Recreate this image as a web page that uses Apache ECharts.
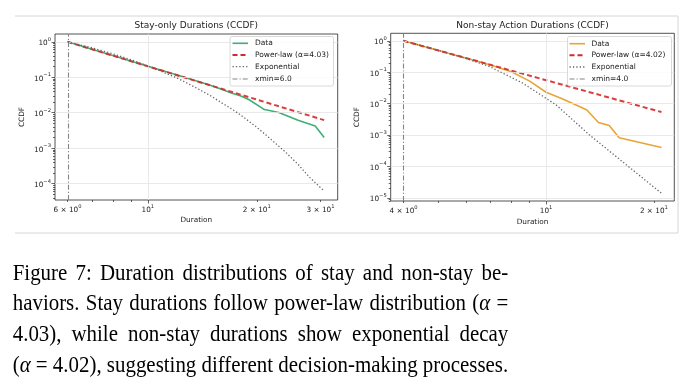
<!DOCTYPE html>
<html><head><meta charset="utf-8">
<script src="https://cdn.jsdelivr.net/npm/echarts@6/dist/echarts.min.js"></script>
<style>html,body{margin:0;padding:0;background:#fff}#c{width:695px;height:387px}</style>
</head><body><div id="c"></div>
<script>
// ---------------- data ----------------
// Left panel: stay-only durations
const stayDur   = [6, 7, 8, 9, 10, 11, 12, 13, 14, 15, 16, 17, 18, 19, 21, 23, 26, 29, 30.7];
const stayCCDF  = [1.0, 0.62, 0.41, 0.284, 0.205, 0.153, 0.117, 0.091, 0.072, 0.058, 0.046, 0.036, 0.030, 0.0236, 0.0123, 0.0101, 0.0061, 0.0042, 0.0020];
const stayPLDur = [6, 30.7];
const stayPL    = [1.0, 0.0062];
const stayExpDur = [6, 7, 8, 9, 10, 11, 12, 13, 14, 15, 16, 17, 18, 19, 20, 22, 24, 26, 28, 30.7];
const stayExp    = [1.0, 0.68, 0.46, 0.31, 0.21, 0.14, 0.097, 0.064, 0.043, 0.029, 0.019, 0.013, 0.0088, 0.0058, 0.0039, 0.0017, 0.00078, 0.00035, 0.00015, 0.000062];
const stayXmin = 6.0;
const stayAlpha = '4.03';

// Right panel: non-stay action durations
const nsDur   = [4, 5, 6, 7, 8, 9, 10, 11, 12, 13, 14, 15, 16, 21];
const nsCCDF  = [1.0, 0.495, 0.279, 0.169, 0.104, 0.052, 0.023, 0.0148, 0.0095, 0.0063, 0.0025, 0.0020, 0.00082, 0.00040];
const nsPLDur = [4, 21];
const nsPL    = [1.0, 0.0054];
const nsExpDur = [4, 5, 6, 6.97, 8.62, 10.67, 13.2, 16.3, 21];
const nsExp    = [1.0, 0.5, 0.27, 0.15, 0.0444, 0.0091, 0.00102, 0.000145, 0.000014];
const nsXmin = 4.0;
const nsAlpha = '4.02';

// tick values
const stayXMajor = [10];
const stayXMinor = [6, 7, 8, 9, 20, 30];
const stayXLabels = [6, 10, 20, 30];
const nsXMajor = [10];
const nsXMinor = [4, 5, 6, 7, 8, 9, 20];
const nsXLabels = [4, 10, 20];
const stayYMajor = [1, 0.1, 0.01, 0.001, 0.0001];
const nsYMajor = [1, 0.1, 0.01, 0.001, 0.0001, 0.00001];

const titles = ['Stay-only Durations (CCDF)', 'Non-stay Action Durations (CCDF)'];
const captionLines = [
  'Figure 7: Duration distributions of stay and non-stay be-',
  'haviors. Stay durations follow power-law distribution (α =',
  '4.03), while non-stay durations show exponential decay',
  '(α = 4.02), suggesting different decision-making processes.'
];

// ---------------- helpers ----------------
const L = v => Math.log10(v);
const pts = (xs, ys) => xs.map((x, i) => [L(x), L(ys[i])]);
const FONT = 'DejaVu Sans';
const MINUS = '\u2212';
function supLabel(v) {
  const e = Math.floor(v + 1e-9);
  const m = Math.round(Math.pow(10, v - e));
  const es = e < 0 ? MINUS + (-e) : String(e);
  return (m === 1 ? '{b|10}' : '{b|' + m + ' \u00d7 10}') + '{s|' + es + '}';
}
function minorY(lo, hi) {
  const out = [];
  for (let e = Math.floor(lo); e <= Math.ceil(hi); e++)
    for (let k = 2; k <= 9; k++) { const v = e + L(k); if (v > lo && v < hi) out.push(v); }
  return out;
}
const richLbl = {
  b: { fontFamily: FONT, fontSize: 7.3, color: '#222', lineHeight: 10, verticalAlign: 'bottom' },
  s: { fontFamily: FONT, fontSize: 5.2, color: '#222', lineHeight: 10, verticalAlign: 'top' }
};

const panels = [
  { left: 55, right: 357.3, top: 34, bottom: 187, xr: [0.7435, 1.5245], yr: [-4.46, 0.22],
    d: [stayDur, stayCCDF], pl: [stayPLDur, stayPL], ex: [stayExpDur, stayExp], xmin: stayXmin,
    xMaj: stayXMajor, xMin: stayXMinor, xLab: stayXLabels, yMaj: stayYMajor, color: '#3fae78', alpha: stayAlpha,
    nameGapX: 17, nameGapY: 29 },
  { left: 390.7, right: 20.7, top: 33.3, bottom: 186, xr: [0.566, 1.358], yr: [-5.10, 0.24],
    d: [nsDur, nsCCDF], pl: [nsPLDur, nsPL], ex: [nsExpDur, nsExp], xmin: nsXmin,
    xMaj: nsXMajor, xMin: nsXMinor, xLab: nsXLabels, yMaj: nsYMajor, color: '#e8a535', alpha: nsAlpha,
    nameGapX: 18, nameGapY: 30 }
];

const grid = [], xAxis = [], yAxis = [], series = [];
panels.forEach((p, gi) => {
  grid.push({ left: p.left, right: p.right, top: p.top, bottom: p.bottom, show: true,
    borderColor: '#262626', borderWidth: 0.8, backgroundColor: 'transparent' });
  const tickStyle = { color: '#262626', width: 0.7 };
  const noLine = { show: false, onZero: false };
  xAxis.push({ type: 'value', gridIndex: gi, min: p.xr[0], max: p.xr[1], position: 'bottom',
    axisLine: noLine, splitLine: { show: false },
    axisTick: { show: true, length: 3.5, lineStyle: tickStyle, customValues: p.xMaj.map(L) },
    axisLabel: { show: true, margin: 4, customValues: p.xLab.map(L), formatter: v => supLabel(v), rich: richLbl, hideOverlap: false },
    name: 'Duration', nameLocation: 'middle', nameGap: p.nameGapX,
    nameTextStyle: { fontFamily: FONT, fontSize: 7.3, color: '#222' } });
  xAxis.push({ type: 'value', gridIndex: gi, min: p.xr[0], max: p.xr[1], position: 'bottom',
    axisLine: noLine, splitLine: { show: false }, axisLabel: { show: false },
    axisTick: { show: true, length: 2, lineStyle: tickStyle, customValues: p.xMin.map(L) } });
  yAxis.push({ type: 'value', gridIndex: gi, min: p.yr[0], max: p.yr[1], position: 'left',
    axisLine: noLine, splitLine: { show: false },
    axisTick: { show: true, length: 3.5, lineStyle: tickStyle, customValues: p.yMaj.map(L) },
    axisLabel: { show: true, margin: 4, customValues: p.yMaj.map(L), formatter: v => supLabel(v), rich: richLbl },
    name: 'CCDF', nameLocation: 'middle', nameGap: p.nameGapY, nameRotate: 90,
    nameTextStyle: { fontFamily: FONT, fontSize: 7.3, color: '#222' } });
  yAxis.push({ type: 'value', gridIndex: gi, min: p.yr[0], max: p.yr[1], position: 'left',
    axisLine: noLine, splitLine: { show: false }, axisLabel: { show: false },
    axisTick: { show: true, length: 2, lineStyle: tickStyle, customValues: minorY(p.yr[0], p.yr[1]) } });
  const xi = gi * 2, yi = gi * 2;
  const base = { type: 'line', xAxisIndex: xi, yAxisIndex: yi, symbol: 'none', showSymbol: false, animation: false, silent: true };
  series.push(Object.assign({}, base, { name: 'grid' + gi, data: [], z: 1,
    markLine: { silent: true, symbol: 'none', animation: false, label: { show: false },
      lineStyle: { color: '#e3e3e3', width: 0.8, type: 'solid' },
      data: p.yMaj.map(v => ({ yAxis: L(v) })).concat(p.xMaj.map(v => ({ xAxis: L(v) }))) } }));
  series.push(Object.assign({}, base, { name: 'Data', data: pts(p.d[0], p.d[1]), z: 3,
    lineStyle: { color: p.color, width: 1.6 } }));
  series.push(Object.assign({}, base, { name: 'Power-law', data: pts(p.pl[0], p.pl[1]), z: 4,
    lineStyle: { color: '#d42a2a', width: 2, type: [5, 3], opacity: 0.9 } }));
  series.push(Object.assign({}, base, { name: 'Exponential', data: pts(p.ex[0], p.ex[1]), z: 5,
    lineStyle: { color: '#666', width: 1.3, type: [1.3, 2.1] } }));
  series.push(Object.assign({}, base, { name: 'xmin', data: [], z: 6,
    markLine: { silent: true, symbol: 'none', animation: false, label: { show: false },
      lineStyle: { color: '#858585', width: 1.1, type: [5, 2, 1.2, 2] },
      data: [{ xAxis: L(p.xmin) }] } }));
});

// ---------------- graphics: frames, titles, legends, caption ----------------
const graphic = [];
const frameStyle = { stroke: '#d6d6d6', lineWidth: 1 };
[[15, 16, 345, 16], [15, 233, 345, 233], [345, 16, 678, 16], [345, 233, 678, 233], [678, 16, 678, 233]].forEach(s =>
  graphic.push({ type: 'line', shape: { x1: s[0], y1: s[1], x2: s[2], y2: s[3] }, style: frameStyle, silent: true }));

graphic.push({ type: 'text', x: 196.3, y: 26, style: { text: titles[0], fontFamily: FONT, fontSize: 9, fill: '#222', align: 'center', verticalAlign: 'middle' } });
graphic.push({ type: 'text', x: 532.5, y: 26, style: { text: titles[1], fontFamily: FONT, fontSize: 9, fill: '#222', align: 'center', verticalAlign: 'middle' } });

const legendBoxes = [
  { x: 230, y: 36.5, w: 103.5, h: 49.5, lx: 232.5, tx: 255, rows: [43.3, 55, 66.7, 79] },
  { x: 567.5, y: 36.5, w: 104, h: 49.5, lx: 569.5, tx: 591.5, rows: [43.7, 55.3, 67, 79] }
];
legendBoxes.forEach((b, i) => {
  const p = panels[i];
  graphic.push({ type: 'rect', shape: { x: b.x, y: b.y, width: b.w, height: b.h, r: 2 },
    style: { fill: 'rgba(255,255,255,0.8)', stroke: '#cfcfcf', lineWidth: 0.8 }, z: 10, silent: true });
  const items = [
    { t: 'Data', s: { stroke: p.color, lineWidth: 1.6 } },
    { t: 'Power-law (\u03b1=' + p.alpha + ')', s: { stroke: '#d42a2a', lineWidth: 2, lineDash: [5, 3] } },
    { t: 'Exponential', s: { stroke: '#666', lineWidth: 1.3, lineDash: [1.3, 2.1] } },
    { t: 'xmin=' + p.xmin.toFixed(1), s: { stroke: '#858585', lineWidth: 1.1, lineDash: [5, 2, 1.2, 2] } }
  ];
  items.forEach((it, k) => {
    const y = b.rows[k];
    graphic.push({ type: 'line', shape: { x1: b.lx, y1: y, x2: b.lx + 15.5, y2: y }, style: it.s, z: 11, silent: true });
    graphic.push({ type: 'text', x: b.tx, y: y, z: 11, silent: true,
      style: { text: it.t, fontFamily: FONT, fontSize: 7.5, fill: '#222', align: 'left', verticalAlign: 'middle' } });
  });
});

// caption, justified
const CFS = 24, CAP_L = 12.7, CAP_W = 495.5, SERIF = 'Liberation Serif';
const capY = [273.3, 304, 334.7, 365.4];
const ctx = document.createElement('canvas').getContext('2d');
function mw(t, it) { ctx.font = (it ? 'italic ' : '') + CFS + 'px "' + SERIF + '"'; return ctx.measureText(t).width; }
function segs(word) {
  const out = []; let buf = '';
  for (const ch of word) { if (ch === 'α') { if (buf) out.push([buf, false]); buf = ''; out.push([ch, true]); } else buf += ch; }
  if (buf) out.push([buf, false]);
  return out;
}
function wordW(word) { return segs(word).reduce((a, s) => a + mw(s[0], s[1]), 0); }
const lastWords = captionLines[3].split(' ');
const lastNat = lastWords.reduce((a, w) => a + wordW(w), 0) + (lastWords.length - 1) * mw(' ', false);
const SX = CAP_W / lastNat;
const capRich = {
  r: { fontFamily: SERIF, fontSize: CFS, fill: '#000' },
  i: { fontFamily: SERIF, fontSize: CFS, fontStyle: 'italic', fill: '#000' }
};
captionLines.forEach((line, li) => {
  const words = line.split(' ');
  const widths = words.map(w => wordW(w) * SX);
  const sum = widths.reduce((a, b) => a + b, 0);
  const gap = (CAP_W - sum) / (words.length - 1);
  let x = CAP_L;
  words.forEach((w, k) => {
    const txt = segs(w).map(s => (s[1] ? '{i|' : '{r|') + s[0] + '}').join('');
    graphic.push({ type: 'text', x: x, y: capY[li], scaleX: SX, silent: true,
      style: { text: txt, rich: capRich, fontFamily: SERIF, fontSize: CFS, fill: '#000', align: 'left', verticalAlign: 'middle' } });
    x += widths[k] + gap;
  });
});

const chart = echarts.init(document.getElementById('c'), null, { renderer: 'canvas' });
chart.setOption({ animation: false, backgroundColor: '#fff', grid, xAxis, yAxis, series, graphic });
</script></body></html>
